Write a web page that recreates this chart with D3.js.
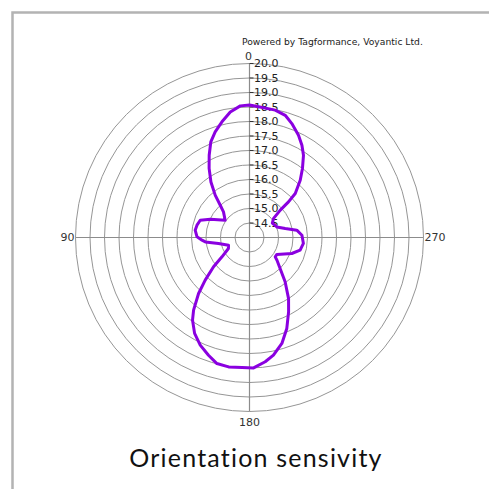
<!DOCTYPE html>
<html>
<head>
<meta charset="utf-8">
<script src="https://cdn.jsdelivr.net/npm/d3@7"></script>
<style>
  html, body { margin: 0; padding: 0; background: #fff; }
  svg { display: block; }
</style>
</head>
<body>
<svg id="chart" width="489" height="489"></svg>
<script>
// Orientation angles (degrees, 0 at top, counter-clockwise: 90 left, 270 right)
const angles = [0, 4.0, 8.7, 13.4, 18.0, 22.0, 26.1, 30.3, 34.8, 39.0, 42.2, 45.4, 54.6,
  65.0, 70.7, 76.8, 82.3, 89.3, 93.2, 95.7, 101.0, 110.1, 117.6, 125.1, 129.2, 133.9,
  137.7, 142.4, 145.4, 150.2, 155.4, 160.8, 165.5, 170.8, 176.7, 181.8, 187.2, 191.5,
  197.0, 202.3, 207.7, 212.6, 218.8, 224.7, 230.4, 233.0, 238.2, 249.3, 255.9, 263.7,
  272.5, 278.8, 284.1, 291.1, 302.2, 308.4, 311.6, 312.4, 313.9, 318.5, 322.5, 326.7,
  330.4, 334.4, 339.6, 343.7, 348.6, 356.0];
// Measured sensitivity values (dBm)
const sensitivity = [18.57, 18.55, 18.38, 18.10, 17.83, 17.56, 17.16, 16.76, 16.33, 15.88, 15.50, 15.26, 15.03,
  15.49, 15.80, 15.86, 15.89, 15.81, 15.64, 15.53, 15.09, 14.77, 14.82, 15.16, 15.60, 16.12,
  16.61, 17.16, 17.46, 17.81, 18.08, 18.30, 18.49, 18.52, 18.49, 18.50, 18.32, 18.14,
  17.82, 17.39, 16.90, 16.50, 15.96, 15.50, 15.23, 15.11, 15.11, 15.56, 15.80, 15.87,
  15.81, 15.65, 15.27, 15.01, 14.93, 15.06, 15.42, 15.82, 16.19, 16.64, 17.00, 17.39,
  17.66, 17.91, 18.19, 18.39, 18.48, 18.52];
const ringValues = [14.5, 15.0, 15.5, 16.0, 16.5, 17.0, 17.5, 18.0, 18.5, 19.0, 19.5, 20.0];
const angleLabels = ["0", "90", "180", "270"];
const angleLabelDeg = [0, 90, 180, 270];
const creditText = "Powered by Tagformance, Voyantic Ltd.";
const captionText = "Orientation sensivity";

const svg = d3.select("#chart");
const cx = 249.5, cy = 237.5, R = 174;
const rScale = d3.scaleLinear().domain([14, 20]).range([0, R]);

// Frame
svg.append("path")
  .attr("d", `M12.5,489 L12.5,12.5 L489,12.5`)
  .attr("fill", "none").attr("stroke", "#b3b3b3").attr("stroke-width", 2.5);

const g = svg.append("g").attr("transform", `translate(${cx},${cy})`);

// Rings
g.selectAll("circle.ring").data(ringValues).join("circle")
  .attr("class", "ring")
  .attr("r", d => rScale(d))
  .attr("fill", "none").attr("stroke", "#969696").attr("stroke-width", 1);

// Axis cross
g.append("line").attr("x1", 0).attr("x2", 0).attr("y1", -R).attr("y2", R)
  .attr("stroke", "#8c8c8c").attr("stroke-width", 1.2);
g.append("line").attr("x1", -R).attr("x2", R).attr("y1", 0).attr("y2", 0)
  .attr("stroke", "#8c8c8c").attr("stroke-width", 1.2);

// Radial tick marks and labels along the 0° axis
const tg = g.selectAll("g.rtick").data(ringValues).join("g")
  .attr("class", "rtick")
  .attr("transform", d => `translate(0,${-rScale(d)})`);
tg.append("line").attr("x1", 0).attr("x2", 4).attr("y1", 0).attr("y2", 0)
  .attr("stroke", "#333").attr("stroke-width", 1);
tg.append("text")
  .attr("x", 4.5).attr("y", 0).attr("dy", "0.36em")
  .attr("font-family", "DejaVu Sans, Verdana, sans-serif")
  .attr("font-size", 11).attr("fill", "#222")
  .text(d => d3.format(".1f")(d));

// Curve
const pts = angles.map((a, i) => [a, sensitivity[i]]);
const line = d3.lineRadial()
  .angle(d => -d[0] * Math.PI / 180)
  .radius(d => rScale(d[1]))
  .curve(d3.curveLinearClosed);
g.append("path").datum(pts)
  .attr("d", line)
  .attr("fill", "none").attr("stroke", "#8a00e0").attr("stroke-width", 3)
  .attr("stroke-linejoin", "round");

// Angle labels
const lblFont = "DejaVu Sans, Verdana, sans-serif";
angleLabelDeg.forEach((deg, i) => {
  const t = g.append("text")
    .attr("font-family", lblFont).attr("font-size", 11).attr("fill", "#333")
    .text(angleLabels[i]);
  if (deg === 0) t.attr("x", -1).attr("y", -R - 4).attr("text-anchor", "middle");
  else if (deg === 180) t.attr("x", 0).attr("y", R + 11).attr("text-anchor", "middle").attr("dy", "0.35em");
  else if (deg === 90) t.attr("x", -R - 1).attr("y", 0).attr("text-anchor", "end").attr("dy", "0.36em");
  else t.attr("x", R + 1).attr("y", 0).attr("text-anchor", "start").attr("dy", "0.36em");
});

// Credit text
svg.append("text")
  .attr("x", 242).attr("y", 45)
  .attr("font-family", lblFont).attr("font-size", 9.2).attr("fill", "#222")
  .text(creditText);

// Caption
svg.append("text")
  .attr("x", 256).attr("y", 466.5).attr("text-anchor", "middle")
  .attr("font-family", "Lato, 'Open Sans', sans-serif").attr("font-size", 25).attr("fill", "#111")
  .attr("letter-spacing", 1.2)
  .style("font-variant-ligatures", "none")
  .text(captionText);
</script>
</body>
</html>
